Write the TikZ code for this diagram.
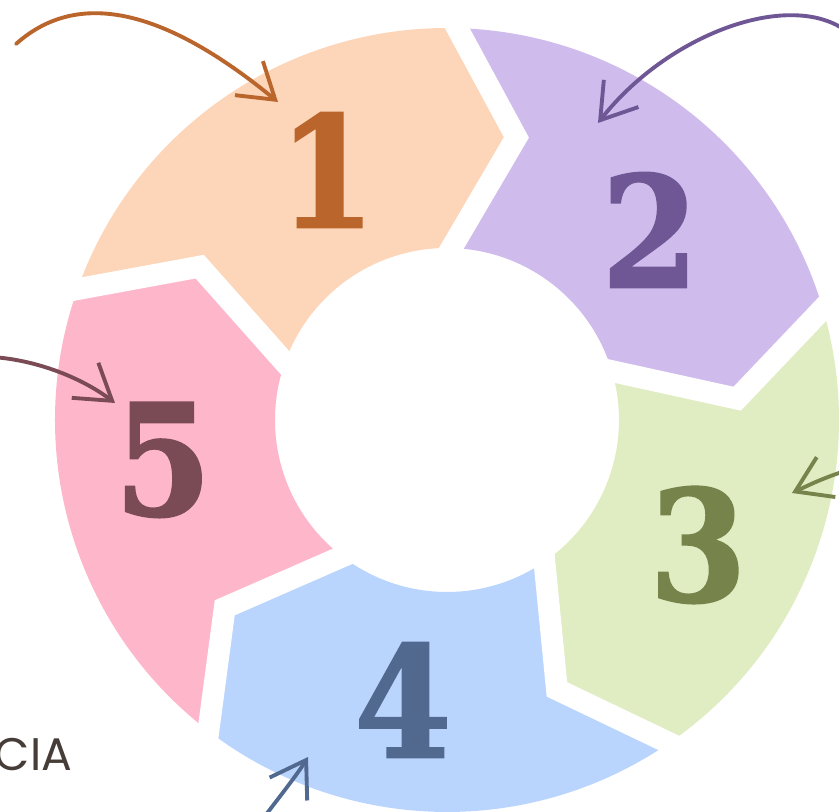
\documentclass[tikz,border=0pt]{standalone}
\usepackage{fontspec}
\newfontfamily\numfont[FakeBold=1.4]{DejaVu Serif Condensed}
\newfontfamily\capfont{Poppins}
\usetikzlibrary{arrows.meta,calc}

\definecolor{pchfill}{RGB}{253,213,184}
\definecolor{lilfill}{RGB}{207,188,236}
\definecolor{limfill}{RGB}{224,236,193}
\definecolor{skyfill}{RGB}{186,213,253}
\definecolor{rosfill}{RGB}{254,182,203}
\definecolor{pchink}{RGB}{185,101,44}
\definecolor{lilink}{RGB}{110,87,148}
\definecolor{limink}{RGB}{118,131,74}
\definecolor{skyink}{RGB}{81,105,143}
\definecolor{rosink}{RGB}{122,74,85}
\definecolor{capink}{RGB}{70,60,56}

\begin{document}
\begin{tikzpicture}[
  gap/.style={draw=white,line width=6.2pt,line join=miter},
  num/.style={font=\numfont\bfseries\fontsize{44}{44}\selectfont,inner sep=0pt},
  sketch/.style={line width=1.1pt,line cap=round,-{Straight Barb[length=3.4mm,width=4.4mm]}},
  caption/.style={font=\capfont\fontsize{13}{14}\selectfont,text=capink,inner sep=0pt},
]
\useasboundingbox (-4.47,-3.92) rectangle (3.92,4.20);

\foreach \a/\c in {160.5/pchfill,88.5/lilfill,16.5/limfill,-55.5/skyfill,-127.5/rosfill}
  \fill[\c] (\a:3.92) -- (\a-12.3:2.91) -- (\a:1.72)
    arc[start angle=\a,end angle=\a-72,radius=1.72]
    -- (\a-84.3:2.91) -- (\a-72:3.92)
    arc[start angle=\a-72,end angle=\a,radius=3.92] -- cycle;
\foreach \a in {160.5,88.5,16.5,-55.5,-127.5}
  \draw[gap] ($(\a-12.3:2.91)!1.4!(\a:3.92)$) -- (\a-12.3:2.91)
    -- ($(\a-12.3:2.91)!1.4!(\a:1.72)$);

\node[num,text=pchink] (n1) at (-1.20,2.50) {1};
\node[num,text=lilink] (n2) at (2.03,1.90) {2};
\node[num,text=limink] (n3) at (2.51,-1.25) {3};
\node[num,text=skyink] (n4) at (-0.44,-2.80) {4};
\node[num,text=rosink] (n5) at (-2.84,-0.40) {5};

\coordinate (s1) at (-4.31,3.76);  \coordinate (t1) at (-1.69,3.18);
\coordinate (s2) at (3.98,3.90);   \coordinate (t2) at (1.51,2.97);
\coordinate (s3) at (4.05,-0.49);  \coordinate (t3) at (3.45,-0.73);
\coordinate (s4) at (-1.85,-4.00); \coordinate (t4) at (-1.39,-3.37);
\coordinate (s5) at (-4.55,0.63);  \coordinate (t5) at (-3.32,0.17);

\draw[sketch,draw=pchink] (s1) .. controls (-3.65,4.35) and (-2.75,4.05) .. (t1);
\draw[sketch,draw=lilink] (s2) .. controls (3.40,4.30) and (2.20,3.85) .. (t2);
\draw[sketch,draw=limink] (s3) .. controls (3.80,-0.56) and (3.60,-0.66) .. (t3);
\draw[sketch,draw=skyink] (s4) .. controls (-1.70,-3.80) and (-1.50,-3.55) .. (t4);
\draw[sketch,draw=rosink] (s5) .. controls (-4.10,0.60) and (-3.65,0.42) .. (t5);

\node[caption,anchor=base east] (cia) at (-3.74,-3.51) {CIA};

\end{tikzpicture}
\end{document}
